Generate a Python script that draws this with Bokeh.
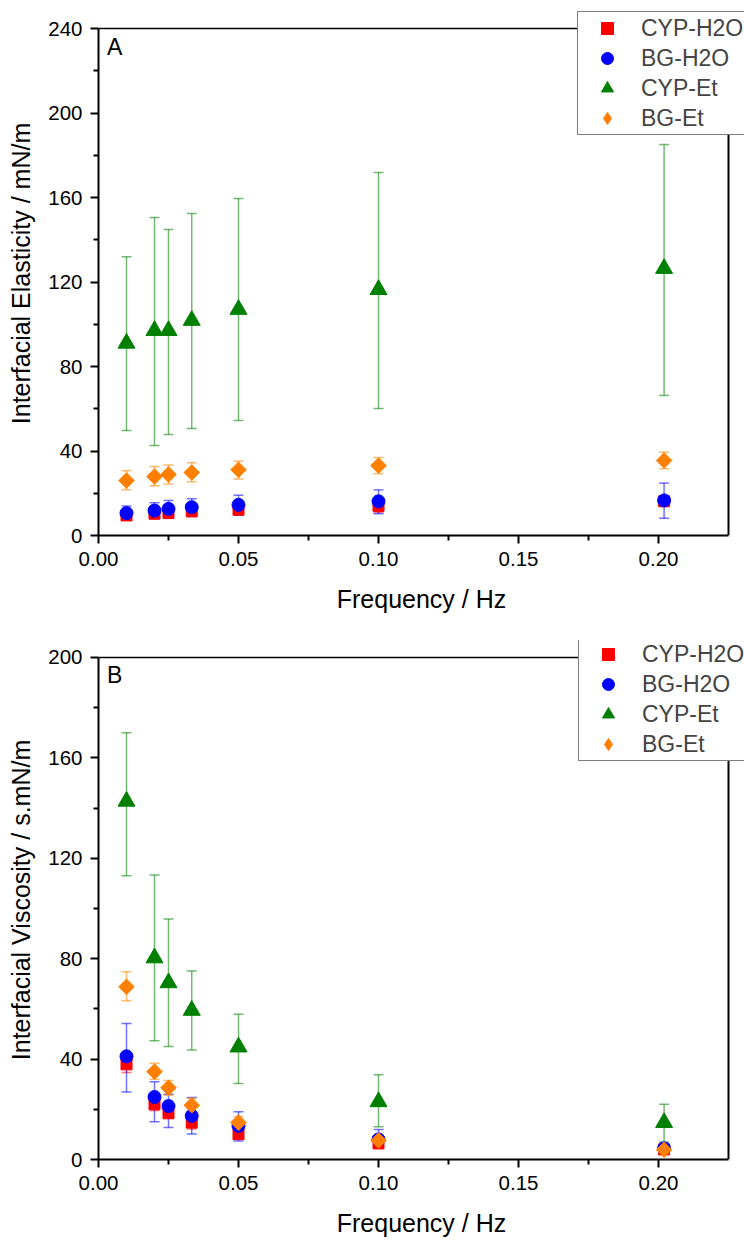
import math
from bokeh.plotting import figure
from bokeh.layouts import column
from bokeh.models import (ColumnDataSource, Whisker, TeeHead, Legend, LegendItem,
                          FixedTicker, NumeralTickFormatter, Range1d, Label, Span)
from bokeh.embed import file_html
from bokeh.resources import INLINE

# ---------------- data ----------------
freq = [0.01, 0.02, 0.025, 0.0333, 0.05, 0.1, 0.202]
series_names = ["CYP-H2O", "BG-H2O", "CYP-Et", "BG-Et"]

# Panel A: interfacial elasticity (mN/m): value, lower, upper
elast_cyp_h2o = [9.5, 10.3, 10.6, 11.4, 12.2, 14.0, 16.2]
elast_cyp_h2o_lo = [8.5, 9.2, 9.4, 10.2, 10.8, 10.9, 14.2]
elast_cyp_h2o_hi = [10.5, 11.4, 11.8, 12.6, 13.6, 17.1, 18.2]
elast_bg_h2o = [10.6, 11.8, 12.6, 13.4, 14.5, 16.2, 16.6]
elast_bg_h2o_lo = [7.9, 8.7, 9.0, 9.5, 9.6, 10.3, 8.2]
elast_bg_h2o_hi = [14.0, 15.5, 16.6, 17.4, 19.1, 21.6, 24.8]
elast_cyp_et = [91.0, 97.0, 97.0, 101.8, 107.0, 116.4, 126.4]
elast_cyp_et_lo = [49.7, 42.6, 47.8, 50.7, 54.4, 60.1, 66.3]
elast_cyp_et_hi = [132.0, 150.5, 144.9, 152.4, 159.5, 171.8, 185.1]
elast_bg_et = [26.0, 27.9, 28.9, 29.8, 31.1, 33.1, 35.5]
elast_bg_et_lo = [21.6, 23.5, 24.4, 25.4, 26.7, 29.3, 31.6]
elast_bg_et_hi = [30.6, 32.7, 33.4, 34.4, 35.3, 36.9, 39.4]

# Panel B: interfacial viscosity (s.mN/m)
visc_cyp_h2o = [37.9, 22.0, 18.4, 14.7, 10.1, 6.4, 4.0]
visc_cyp_h2o_lo = [34.7, 19.5, 16.4, 12.2, 8.1, 5.0, 3.0]
visc_cyp_h2o_hi = [41.2, 24.5, 20.4, 17.2, 12.1, 7.8, 5.0]
visc_bg_h2o = [41.1, 24.9, 21.3, 17.4, 13.4, 8.0, 4.4]
visc_bg_h2o_lo = [26.9, 15.0, 12.7, 10.2, 7.4, 4.8, 2.4]
visc_bg_h2o_hi = [54.2, 31.0, 26.0, 24.7, 19.0, 12.0, 6.4]
visc_cyp_et = [142.7, 80.3, 70.4, 59.4, 44.8, 23.0, 14.7]
visc_cyp_et_lo = [113.0, 47.3, 45.0, 43.6, 30.3, 13.0, 7.0]
visc_cyp_et_hi = [170.0, 113.3, 95.8, 75.1, 57.9, 33.8, 22.0]
visc_bg_et = [68.8, 35.0, 28.6, 21.6, 14.7, 7.6, 3.9]
visc_bg_et_lo = [63.2, 32.0, 25.6, 19.0, 12.3, 5.6, 2.4]
visc_bg_et_hi = [74.8, 38.3, 31.5, 24.4, 17.1, 9.6, 5.4]

x_ticks = [0.0, 0.05, 0.10, 0.15, 0.20]
yA_ticks = [0, 40, 80, 120, 160, 200, 240]
yB_ticks = [0, 40, 80, 120, 160, 200]

X_MAX = 0.225  # axis box limit
colors = ["#ff0000", "#0000ff", "#008000", "#ff8000"]
markers = ["square", "circle", "triangle", "square"]
angles = [0, 0, 0, math.pi / 4]
sizes = [11, 13, 17, 11]

FONT = "Liberation Sans"

FRAME_LEFT = 98
FRAME_W = 630      # width of the boxed axes area
EXTRA_RIGHT = 16   # room for the legend beyond the box
EXTRA_TOP = 17     # room for the legend above the box


def make_panel(letter, ylabel, ymax, yticks, data, box_h, top_border, bottom_border, letter_y, leg_loc):
    total_frame_h = box_h + EXTRA_TOP
    y_end = ymax * total_frame_h / box_h
    x_end = X_MAX * (FRAME_W + EXTRA_RIGHT) / FRAME_W
    height = top_border + total_frame_h + bottom_border
    p = figure(width=FRAME_LEFT + FRAME_W + EXTRA_RIGHT, height=height,
               output_backend="svg", toolbar_location=None,
               x_range=Range1d(0, x_end), y_range=Range1d(0, y_end),
               min_border_left=FRAME_LEFT, min_border_right=0,
               min_border_top=top_border, min_border_bottom=bottom_border)
    p.xgrid.visible = False
    p.ygrid.visible = False
    p.outline_line_color = None

    for ax, ticks, bnd in ((p.xaxis[0], x_ticks, (0, X_MAX)), (p.yaxis[0], yticks, (0, ymax))):
        step = ticks[1] - ticks[0]
        minors = [t + step / 2 for t in ticks[:-1]]
        ax.ticker = FixedTicker(ticks=ticks, minor_ticks=minors)
        ax.bounds = bnd
        ax.axis_line_width = 2
        ax.major_tick_line_width = 2
        ax.minor_tick_line_width = 2
        ax.major_tick_out = 8
        ax.major_tick_in = 0
        ax.minor_tick_out = 5
        ax.minor_tick_in = 0
        ax.major_label_text_font = FONT
        ax.major_label_text_font_size = "20.5px"
        ax.major_label_text_color = "black"
        ax.axis_label_text_font = FONT
        ax.axis_label_text_font_size = "25px"
        ax.axis_label_text_font_style = "normal"
        ax.axis_label_text_color = "black"
    p.xaxis[0].formatter = NumeralTickFormatter(format="0.00")
    p.xaxis[0].axis_label = "Frequency / Hz"
    p.xaxis[0].major_label_standoff = 8
    p.xaxis[0].axis_label_standoff = 16
    p.yaxis[0].axis_label = ylabel
    p.yaxis[0].major_label_standoff = 8
    p.yaxis[0].axis_label_standoff = 10

    # closing lines of the axes box (top and right)
    p.add_layout(Span(location=ymax, dimension="width", line_color="black", line_width=1.5))
    p.add_layout(Span(location=X_MAX, dimension="height", line_color="black", line_width=2))

    items = []
    for i, (vals, lo, hi) in enumerate(data):
        src = ColumnDataSource(dict(x=freq, y=vals, lo=lo, hi=hi))
        w = Whisker(base="x", lower="lo", upper="hi", source=src, dimension="height",
                    line_color=colors[i], line_alpha=0.55, line_width=1.5,
                    upper_head=TeeHead(size=10, line_color=colors[i], line_alpha=0.55, line_width=1.5),
                    lower_head=TeeHead(size=10, line_color=colors[i], line_alpha=0.55, line_width=1.5))
        p.add_layout(w)
        r = p.scatter("x", "y", source=src, marker=markers[i], size=sizes[i], angle=angles[i],
                      fill_color=colors[i], line_color=colors[i])
        if angles[i]:
            # legends ignore marker angle: show a diamond swatch (not drawn in the plot)
            r = p.scatter(x=[float("nan")], y=[float("nan")], marker="diamond", size=sizes[i],
                          fill_color=colors[i], line_color=colors[i])
        items.append(LegendItem(label=series_names[i], renderers=[r]))

    p.add_layout(Label(x=0.003, y=letter_y, text=letter, text_font=FONT,
                       text_font_size="23px", text_baseline="top", text_color="black"))

    leg = Legend(items=items, location=leg_loc,
                 label_text_font=FONT, label_text_font_size="23px",
                 label_height=30, glyph_height=30, glyph_width=56,
                 label_standoff=6, padding=1, spacing=0, margin=0,
                 border_line_color="black", border_line_width=1,
                 background_fill_color="white", background_fill_alpha=1.0)
    p.add_layout(leg, "center")
    return p


dataA = [(elast_cyp_h2o, elast_cyp_h2o_lo, elast_cyp_h2o_hi),
         (elast_bg_h2o, elast_bg_h2o_lo, elast_bg_h2o_hi),
         (elast_cyp_et, elast_cyp_et_lo, elast_cyp_et_hi),
         (elast_bg_et, elast_bg_et_lo, elast_bg_et_hi)]
dataB = [(visc_cyp_h2o, visc_cyp_h2o_lo, visc_cyp_h2o_hi),
         (visc_bg_h2o, visc_bg_h2o_lo, visc_bg_h2o_hi),
         (visc_cyp_et, visc_cyp_et_lo, visc_cyp_et_hi),
         (visc_bg_et, visc_bg_et_lo, visc_bg_et_hi)]

pA = make_panel("A", "Interfacial Elasticity / mN/m", 240, yA_ticks, dataA,
                box_h=507, top_border=11, bottom_border=85, letter_y=237.5, leg_loc=(479, 400))
pB = make_panel("B", "Interfacial Viscosity / s.mN/m", 200, yB_ticks, dataB,
                box_h=503, top_border=20, bottom_border=79, letter_y=198, leg_loc=(480, 398))

layout = column(pA, pB, spacing=0)
open("out.html", "w").write(file_html(layout, INLINE))
